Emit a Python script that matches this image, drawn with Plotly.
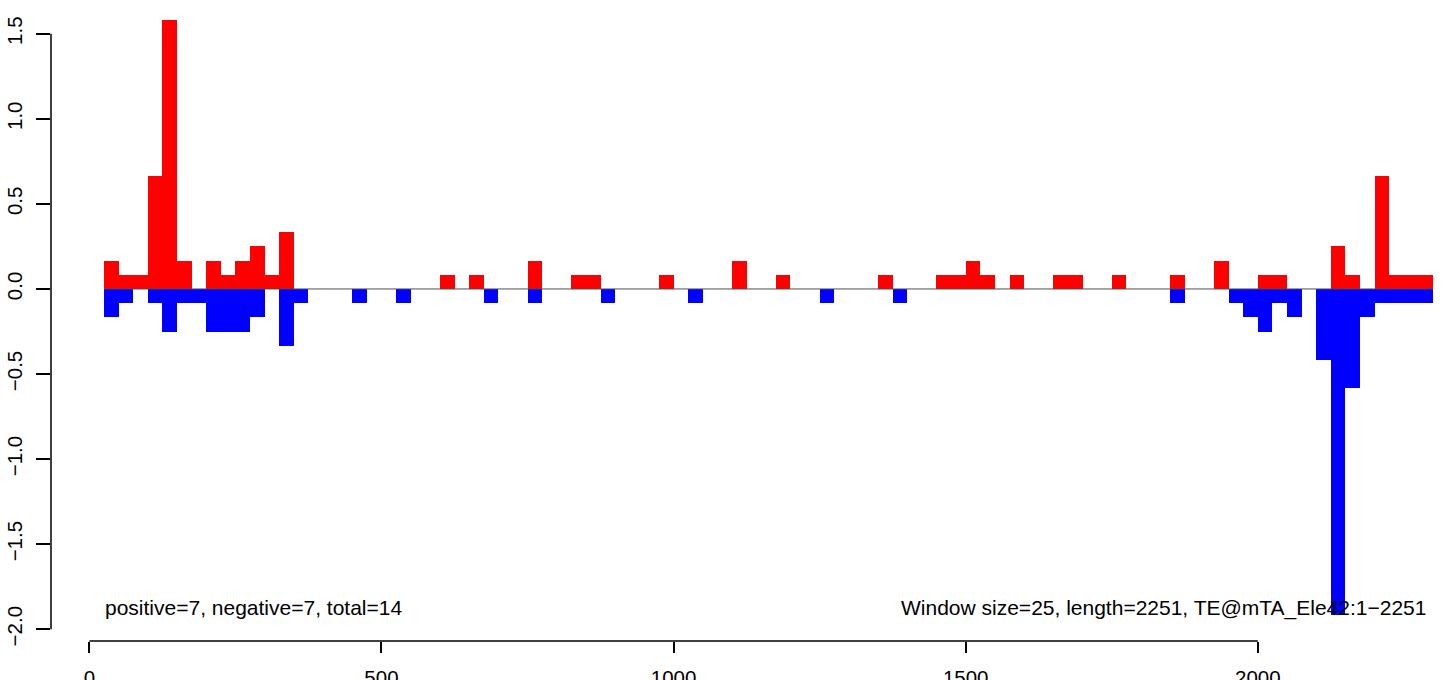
import plotly.graph_objects as go

# window start positions (window size 25)
window_size = 25
positions = [25 * k for k in range(1, 92)]

# read values (in units of 1/12 of a read) per window, k = 1..91
pos_counts = {1: 2, 2: 1, 3: 1, 4: 8, 5: 19, 6: 2, 8: 2, 9: 1, 10: 2, 11: 3, 12: 1, 13: 4,
              24: 1, 26: 1, 30: 2, 33: 1, 34: 1, 39: 1, 44: 2, 47: 1, 54: 1, 58: 1, 59: 1,
              60: 2, 61: 1, 63: 1, 66: 1, 67: 1, 70: 1, 74: 1, 77: 2, 80: 1, 81: 1, 85: 3,
              86: 1, 88: 8, 89: 1, 90: 1, 91: 1}
neg_counts = {1: 2, 2: 1, 4: 1, 5: 3, 6: 1, 7: 1, 8: 3, 9: 3, 10: 3, 11: 2, 13: 4, 14: 1,
              18: 1, 21: 1, 27: 1, 30: 1, 35: 1, 41: 1, 50: 1, 55: 1, 74: 1, 78: 1, 79: 2,
              80: 3, 81: 1, 82: 2, 84: 5, 85: 23, 86: 7, 87: 2, 88: 1, 89: 1, 90: 1, 91: 1}
unit = 12.0
positive = [pos_counts.get(k, 0) / unit for k in range(1, 92)]
negative = [-neg_counts.get(k, 0) / unit for k in range(1, 92)]

x_ticks = [0, 500, 1000, 1500, 2000]
y_ticks = [-2.0, -1.5, -1.0, -0.5, 0.0, 0.5, 1.0, 1.5]

left_text = "positive=7, negative=7, total=14"
right_text = "Window size=25, length=2251, TE@mTA_Ele42:1\u22122251"

FONT = "Liberation Sans, Arial, Helvetica, sans-serif"
FS = 20.5
FS_ANN = 21

fig = go.Figure()
# zero line
fig.add_trace(go.Scatter(x=[positions[0], positions[-1] + window_size], y=[0, 0],
                         mode="lines", line=dict(color="#4d4d4d", width=1),
                         hoverinfo="skip", showlegend=False))
fig.add_trace(go.Bar(x=positions, y=positive, width=window_size, offset=0,
                     marker=dict(color="#FF0000", line=dict(width=0)), showlegend=False))
fig.add_trace(go.Bar(x=positions, y=negative, width=window_size, offset=0,
                     marker=dict(color="#0000FF", line=dict(width=0)), showlegend=False))

fig.update_layout(
    width=1444, height=680,
    margin=dict(l=51, r=4, t=5, b=39, autoexpand=False),
    paper_bgcolor="white", plot_bgcolor="white",
    barmode="overlay", bargap=0,
    font=dict(family=FONT, size=FS, color="black"),
    xaxis=dict(range=[-65.7, 2311.9], showgrid=False, zeroline=False, showline=False,
               automargin=False,
               tickmode="array", tickvals=x_ticks, ticks="outside", ticklen=11,
               tickwidth=1.5, tickcolor="black", ticklabelstandoff=7,
               tickfont=dict(family=FONT, size=FS, color="black")),
    yaxis=dict(range=[-2.069, 1.669], showgrid=False, zeroline=False, showline=False,
               automargin=False,
               tickmode="array", tickvals=y_ticks, tickformat=".1f", ticks="outside",
               ticklen=14, tickwidth=1.5, tickcolor="black", tickangle=-90,
               ticklabelstandoff=6,
               tickfont=dict(family=FONT, size=FS, color="black")),
    shapes=[
        dict(type="line", xref="x", yref="paper", x0=min(x_ticks), x1=max(x_ticks), y0=0, y1=0,
             line=dict(color="black", width=1.5)),
        dict(type="line", xref="paper", yref="y", x0=0, x1=0, y0=min(y_ticks), y1=max(y_ticks),
             line=dict(color="black", width=1.5)),
    ],
    annotations=[
        dict(text=left_text, xref="x", yref="y", x=24, y=-1.875, xanchor="left",
             yanchor="middle", showarrow=False, font=dict(family=FONT, size=FS_ANN, color="black")),
        dict(text=right_text, xref="x", yref="y", x=2292, y=-1.875, xanchor="right",
             yanchor="middle", showarrow=False, font=dict(family=FONT, size=FS_ANN, color="black")),
    ],
)

fig.write_html("out.html",
               config={"displayModeBar": False},
               post_script="document.body.style.margin='0';document.body.style.padding='0';")
